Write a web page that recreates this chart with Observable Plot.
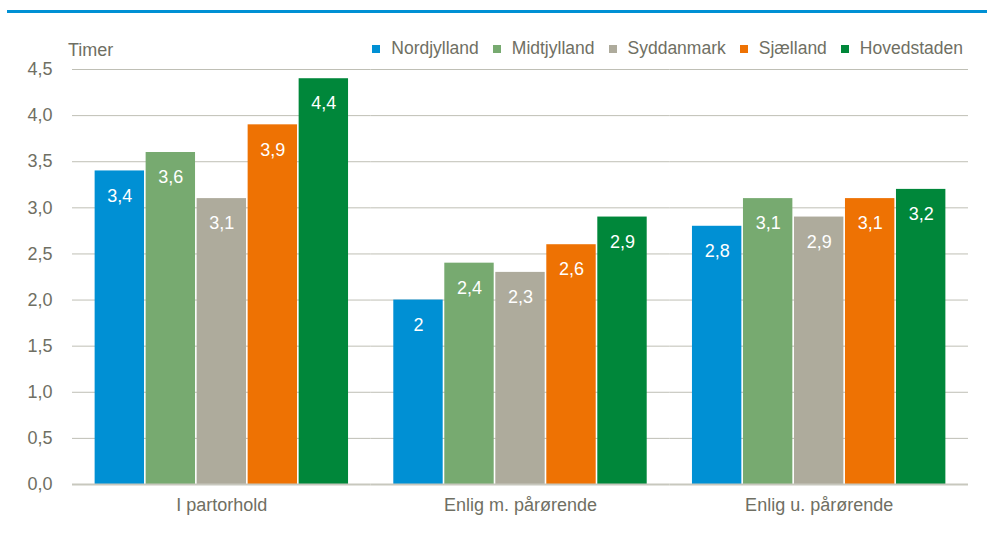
<!DOCTYPE html>
<html>
<head>
<meta charset="utf-8">
<script src="https://cdn.jsdelivr.net/npm/d3@7"></script>
<script src="https://cdn.jsdelivr.net/npm/@observablehq/plot@0.6"></script>
<style>
  body { margin: 0; background: #fff; font-family: "Liberation Sans", Arial, sans-serif; }
  #wrap { position: relative; width: 987px; height: 543px; overflow: hidden; }
  #topline { position: absolute; left: 7px; right: 0; top: 10px; height: 3px; background: #0090d4; }
  #ylab { position: absolute; left: 68px; top: 40px; font-size: 18px; color: #6f6f63; }
  #legend { position: absolute; right: 24px; top: 38px; display: flex; align-items: center; font-size: 17.5px; color: #6f6f63; white-space: nowrap; }
  #legend .item { display: flex; align-items: center; margin-left: 14px; }
  #legend .sw { width: 8px; height: 8px; margin-right: 11px; }
  #chart { position: absolute; left: 0; top: 0; }
</style>
</head>
<body>
<div id="wrap">
  <div id="topline"></div>
  <div id="chart"></div>
  <div id="ylab">Timer</div>
  <div id="legend"></div>
</div>
<script>
const groups = ["I partorhold", "Enlig m. pårørende", "Enlig u. pårørende"];
const regions = ["Nordjylland", "Midtjylland", "Syddanmark", "Sjælland", "Hovedstaden"];
const colors = ["#0090d4", "#77aa70", "#aeab9c", "#ee7203", "#00873a"];
const nordjylland = [3.4, 2.0, 2.8];
const midtjylland = [3.6, 2.4, 3.1];
const syddanmark = [3.1, 2.3, 2.9];
const sjaelland = [3.9, 2.6, 3.1];
const hovedstaden = [4.4, 2.9, 3.2];
const yTicks = [0, 0.5, 1, 1.5, 2, 2.5, 3, 3.5, 4, 4.5];

const seriesValues = [nordjylland, midtjylland, syddanmark, sjaelland, hovedstaden];
const data = [];
groups.forEach((g, gi) => {
  regions.forEach((r, ri) => {
    data.push({group: g, region: r, value: seriesValues[ri][gi]});
  });
});

const fmtTick = d => d.toFixed(1).replace(".", ",");
const fmtVal = d => String(d).replace(".", ",");
const textColor = "#6f6f63";

const plot = Plot.plot({
  width: 987,
  height: 543,
  marginLeft: 72,
  marginRight: 19,
  marginTop: 69,
  marginBottom: 59,
  style: { fontFamily: "'Liberation Sans', Arial, sans-serif", fontSize: "18px", color: textColor, background: "transparent" },
  fx: { domain: groups, paddingInner: 0, paddingOuter: 0, round: false, axis: "bottom", label: null, tickSize: 0, tickPadding: 14 },
  x: { domain: regions, paddingInner: 0, paddingOuter: 0.428, round: false, axis: null },
  y: { domain: [0, 4.5], ticks: yTicks, tickFormat: fmtTick, tickSize: 0, tickPadding: 20, label: null },
  color: { domain: regions, range: colors },
  marks: [
    Plot.ruleY(yTicks.filter(d => d > 0), { stroke: "#bfbfb5", strokeWidth: 1 }),
    Plot.barY(data, { fx: "group", x: "region", y: "value", fill: "region", insetLeft: 0.8, insetRight: 0.8 }),
    Plot.ruleY([0], { stroke: "#c8c8be", strokeWidth: 2 }),
    Plot.text(data, { fx: "group", x: "region", y: "value", text: d => fmtVal(d.value), dy: 25, fill: "white", fontSize: 18 })
  ]
});
document.getElementById("chart").appendChild(plot);

const legend = document.getElementById("legend");
regions.forEach((r, i) => {
  const item = document.createElement("div");
  item.className = "item";
  const sw = document.createElement("span");
  sw.className = "sw";
  sw.style.background = colors[i];
  const t = document.createElement("span");
  t.textContent = r;
  item.appendChild(sw);
  item.appendChild(t);
  legend.appendChild(item);
});
</script>
</body>
</html>
